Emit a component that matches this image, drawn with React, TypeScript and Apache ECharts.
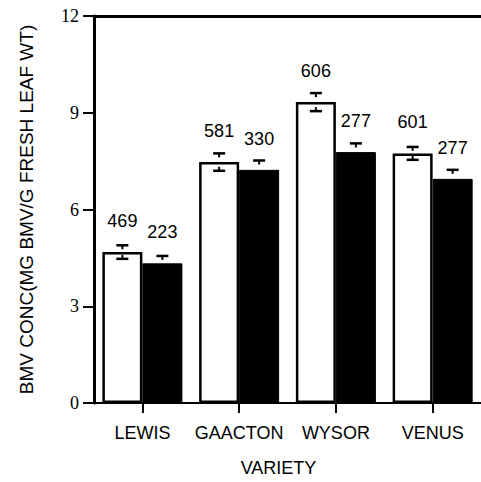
import React, { useEffect, useRef } from "react";
import * as echarts from "echarts";

const categories = ["LEWIS", "GAACTON", "WYSOR", "VENUS"];
const whiteValues = [4.68, 7.47, 9.33, 7.74];
const whiteErrors = [0.21, 0.27, 0.28, 0.2];
const blackValues = [4.33, 7.23, 7.78, 6.95];
const blackErrors = [0.23, 0.29, 0.27, 0.28];
const whiteLabels = ["469", "581", "606", "601"];
const blackLabels = ["223", "330", "277", "277"];
const yTicks = [0, 3, 6, 9, 12];

const SANS = "Liberation Sans, Arial, sans-serif";
const SERIF = "Liberation Serif, Times New Roman, serif";
const BAR_W = 40;

function errorSeries(values: number[], errors: number[], offsetIndex: number) {
  return {
    type: "custom",
    xAxisIndex: 0,
    yAxisIndex: 0,
    z: 10,
    silent: true,
    data: values.map((v, i) => [i, v, errors[i]]),
    renderItem: (params: any, api: any) => {
      const idx = api.value(0);
      const v = api.value(1);
      const e = api.value(2);
      const center = api.coord([idx, v]);
      const cx = center[0] + (offsetIndex === 0 ? -BAR_W / 2 : BAR_W / 2);
      const top = api.coord([idx, v + e])[1];
      const bot = api.coord([idx, v - e])[1];
      const half = 6;
      const style = { stroke: "#000", lineWidth: 2.5 };
      return {
        type: "group",
        children: [
          { type: "line", shape: { x1: cx - half, y1: top, x2: cx + half, y2: top }, style },
          { type: "line", shape: { x1: cx, y1: top, x2: cx, y2: top + 4 }, style: { stroke: "#000", lineWidth: 2 } },
          { type: "line", shape: { x1: cx - half, y1: bot, x2: cx + half, y2: bot }, style },
          { type: "line", shape: { x1: cx, y1: bot, x2: cx, y2: bot - 4 }, style: { stroke: "#000", lineWidth: 2 } },
        ],
      };
    },
  };
}

export default function App() {
  const ref = useRef<HTMLDivElement>(null);
  useEffect(() => {
    if (!ref.current) return;
    const chart = echarts.init(ref.current, null, { renderer: "svg" });
    chart.setOption({
      animation: false,
      backgroundColor: "#fff",
      grid: { left: 94, right: -8, top: 16, bottom: 74, containLabel: false },
      xAxis: [
        {
          type: "category",
          data: categories,
          position: "bottom",
          axisLine: { show: true, lineStyle: { color: "#000", width: 2 } },
          axisTick: { show: true, alignWithLabel: true, length: 10, lineStyle: { color: "#000", width: 2 } },
          axisLabel: { color: "#000", fontFamily: SANS, fontSize: 18, margin: 21, interval: 0 },
          name: "VARIETY",
          nameLocation: "middle",
          nameGap: 56,
          nameTextStyle: { color: "#000", fontFamily: SANS, fontSize: 18, padding: [0, 18, 0, 0] },
        },
        {
          type: "category",
          data: categories,
          position: "top",
          axisLine: { show: true, lineStyle: { color: "#000", width: 3 } },
          axisTick: { show: false },
          axisLabel: { show: false },
        },
      ],
      yAxis: {
        type: "value",
        min: 0,
        max: 12,
        interval: 3,
        axisLine: { show: true, lineStyle: { color: "#000", width: 3 } },
        axisTick: { show: true, length: 11, lineStyle: { color: "#000", width: 2 } },
        splitLine: { show: false },
        axisLabel: {
          color: "#000",
          fontFamily: SERIF,
          fontSize: 18,
          margin: 15,
          formatter: (v: number) => (yTicks.includes(v) ? String(v) : ""),
        },
        name: "BMV CONC(MG BMV/G FRESH LEAF WT)",
        nameLocation: "middle",
        nameGap: 58,
        nameTextStyle: { color: "#000", fontFamily: SANS, fontSize: 19 },
      },
      series: [
        {
          type: "bar",
          data: whiteValues,
          barWidth: BAR_W,
          barGap: "0%",
          itemStyle: { color: "#fff", borderColor: "#000", borderWidth: 2.5 },
          label: {
            show: true,
            position: "top",
            distance: 22,
            color: "#000",
            fontFamily: SANS,
            fontSize: 18,
            formatter: (p: any) => whiteLabels[p.dataIndex],
          },
        },
        {
          type: "bar",
          data: blackValues,
          barWidth: BAR_W,
          barGap: "0%",
          itemStyle: { color: "#000", borderColor: "#000", borderWidth: 1 },
          label: {
            show: true,
            position: "top",
            distance: 22,
            color: "#000",
            fontFamily: SANS,
            fontSize: 18,
            formatter: (p: any) => blackLabels[p.dataIndex],
          },
        },
        errorSeries(whiteValues, whiteErrors, 0),
        errorSeries(blackValues, blackErrors, 1),
      ],
    });
    return () => chart.dispose();
  }, []);
  return <div ref={ref} style={{ width: 481, height: 482, position: "absolute", left: 0, top: 0 }} />;
}
